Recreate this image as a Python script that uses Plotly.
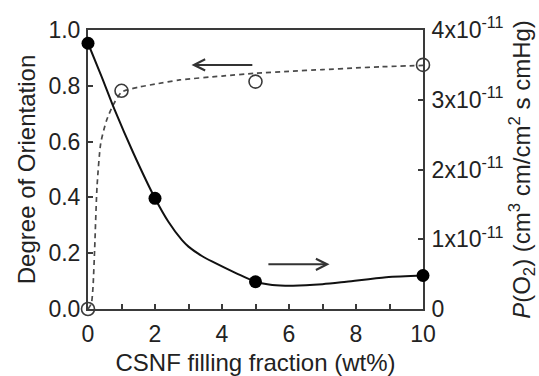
import plotly.graph_objects as go

# ---- data ----
fill_wt = [0, 1, 5, 10]                      # CSNF filling fraction (wt%)
orientation = [0.0, 0.782, 0.815, 0.875]    # Degree of Orientation (left axis)

perm_wt = [0, 2, 5, 10]
perm_O2 = [3.81e-11, 1.587e-11, 0.391e-11, 0.48e-11]   # P(O2) (right axis)

# guide curves as drawn in the picture
orient_curve_x = [0, 0.1, 0.15, 0.2, 0.27, 0.38, 0.55, 0.75, 1.0, 1.5, 2, 2.74, 4, 5, 6, 7, 8, 8.7, 10]
orient_curve_y = [0, 0.02, 0.08, 0.22, 0.44, 0.594, 0.675, 0.731, 0.777, 0.795, 0.806, 0.821, 0.835,
                  0.845, 0.852, 0.858, 0.864, 0.868, 0.873]

perm_curve_x = [0, 0.4, 0.8, 1.35, 2, 2.4, 2.8, 3.0, 3.4, 3.73, 4.43, 5, 5.5, 6.12, 7, 7.71, 8.9, 10]
perm_curve_y = [3.81e-11, 3.34e-11, 2.85e-11, 2.24e-11, 1.587e-11, 1.25e-11, 0.99e-11, 0.894e-11,
                0.76e-11, 0.675e-11, 0.512e-11, 0.391e-11, 0.345e-11, 0.334e-11, 0.355e-11, 0.39e-11,
                0.455e-11, 0.48e-11]

x_ticks = [0, 2, 4, 6, 8, 10]
left_ticks = [0, 0.2, 0.4, 0.6, 0.8, 1.0]
right_ticks = [0, 1e-11, 2e-11, 3e-11, 4e-11]
right_ticktext = ["0", "1x10<sup>-11</sup>", "2x10<sup>-11</sup>", "3x10<sup>-11</sup>", "4x10<sup>-11</sup>"]

FONT = "Liberation Sans, Arial, sans-serif"
AX = "#3a3a3a"

fig = go.Figure()

fig.add_trace(go.Scatter(x=orient_curve_x, y=orient_curve_y, mode="lines",
                         line=dict(color="#4a4a4a", width=1.7, dash="5px,4px", shape="spline", smoothing=0.6),
                         hoverinfo="skip", showlegend=False))
fig.add_trace(go.Scatter(x=fill_wt, y=orientation, mode="markers", cliponaxis=False,
                         marker=dict(symbol="circle-open", size=13, color="#3a3a3a", line=dict(width=1.6)),
                         showlegend=False))
fig.add_trace(go.Scatter(x=perm_curve_x, y=perm_curve_y, mode="lines", yaxis="y2",
                         line=dict(color="#111111", width=2, shape="spline", smoothing=0.8),
                         hoverinfo="skip", showlegend=False))
fig.add_trace(go.Scatter(x=perm_wt, y=perm_O2, mode="markers", yaxis="y2", cliponaxis=False,
                         marker=dict(symbol="circle", size=13, color="#000000"),
                         showlegend=False))

# arrows pointing to the relevant axis
fig.add_annotation(x=3.09, y=0.875, ax=4.95, ay=0.875, xref="x", yref="y", axref="x", ayref="y",
                   text="", showarrow=True, arrowhead=5, arrowsize=1.1, arrowwidth=2, arrowcolor="#333333")
fig.add_annotation(x=7.21, y=0.160, ax=5.34, ay=0.160, xref="x", yref="y", axref="x", ayref="y",
                   text="", showarrow=True, arrowhead=5, arrowsize=1.1, arrowwidth=2, arrowcolor="#333333")

axis_common = dict(showline=True, linecolor=AX, linewidth=2, ticks="inside", ticklen=5, tickwidth=1.5,
                   tickcolor=AX, showgrid=False, zeroline=False, automargin=False, layer="below traces",
                   tickfont=dict(family=FONT, size=23, color="#222222"))

fig.update_layout(
    width=539, height=376, template="none",
    paper_bgcolor="white", plot_bgcolor="white",
    margin=dict(l=88, r=116, t=30, b=67),
    font=dict(family=FONT, size=23, color="#222222"),
    xaxis=dict(range=[0, 10], tickvals=x_ticks, mirror=True, ticklabelstandoff=3,
               minor=dict(dtick=1, ticks="inside", ticklen=5, tickwidth=1.5, tickcolor=AX),
               title=dict(text="CSNF filling fraction (wt%)", font=dict(family=FONT, size=24), standoff=11),
               **axis_common),
    yaxis=dict(range=[0, 1.0], tickvals=left_ticks, tickformat=".1f", ticklabelstandoff=1,
               title=dict(text="Degree of Orientation", font=dict(family=FONT, size=24), standoff=6),
               **axis_common),
    yaxis2=dict(range=[0, 4e-11], overlaying="y", side="right", tickvals=right_ticks, ticktext=right_ticktext,
                ticklabelstandoff=2,
                title=dict(text="<i>P</i>(O<sub>2</sub>) (cm<sup>3</sup> cm/cm<sup>2</sup> s cmHg)",
                           font=dict(family=FONT, size=24), standoff=12),
                **axis_common),
)

fig.write_html("out.html")
